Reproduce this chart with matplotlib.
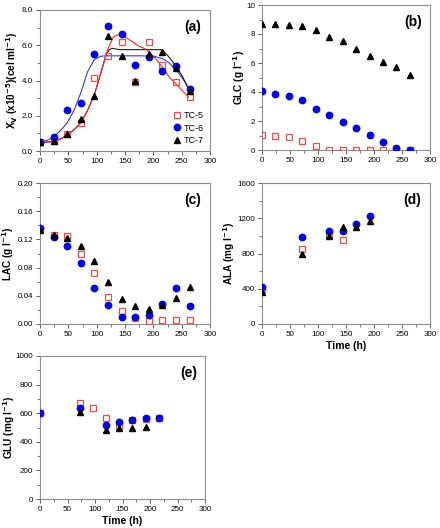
import numpy as np
import matplotlib
matplotlib.use("Agg")
import matplotlib.pyplot as plt
from matplotlib.ticker import MultipleLocator

plt.rcParams['font.family'] = ['Liberation Sans', 'DejaVu Sans']

nan = np.nan
t = [0, 24, 48, 72, 96, 120, 144, 168, 192, 216, 240, 264]

# (a) viable cells
xv_tc5 = [0.5, 0.55, 0.95, 1.6, 4.15, 5.4, 6.2, 3.9, 6.2, 4.9, 3.9, 3.05]
xv_tc6 = [0.5, 0.8, 2.3, 2.75, 5.5, 7.1, 6.65, 4.9, 5.35, 4.55, 4.8, 3.5]
xv_tc7 = [0.5, 0.55, 0.95, 1.8, 3.1, 6.5, 5.4, 4.0, 5.5, 5.6, 4.7, 3.4]

# fitted curves
fit_t5 = [0, 12, 24, 36, 48, 60, 72, 84, 96, 108, 120, 130, 140, 156, 172, 188, 204, 216, 228, 240, 252, 262]
fit_tc5 = [0.5, 0.5, 0.55, 0.68, 0.9, 1.2, 1.6, 2.3, 3.2, 4.5, 5.8, 6.5, 6.6, 6.35, 6.0, 5.75, 5.25, 4.75, 4.2, 3.8, 3.4, 3.05]
fit_t6 = [0, 12, 24, 36, 48, 60, 72, 84, 96, 108, 120, 150, 180, 200, 216, 228, 240, 252, 262]
fit_tc6 = [0.5, 0.6, 0.8, 1.15, 1.6, 2.3, 3.3, 4.5, 5.2, 5.38, 5.4, 5.4, 5.4, 5.38, 5.25, 5.0, 4.6, 4.1, 3.6]
fit_t7 = [0, 12, 24, 36, 48, 60, 72, 84, 96, 108, 116, 122, 128, 140, 170, 200, 214, 226, 240, 252, 262]
fit_tc7 = [0.5, 0.5, 0.55, 0.68, 0.9, 1.2, 1.6, 2.3, 3.2, 4.5, 5.4, 5.75, 5.83, 5.75, 5.75, 5.75, 5.75, 5.4, 4.8, 4.2, 3.5]

# (b) glucose
glc_tc5 = [1.05, 1.0, 0.9, 0.6, 0.28, 0.0, 0.0, 0.0, 0.0, 0.0, 0.0, 0.0]
glc_tc6 = [4.1, 3.85, 3.7, 3.42, 2.85, 2.4, 1.95, 1.5, 1.05, 0.55, 0.12, 0.0]
glc_tc7 = [8.7, 8.7, 8.65, 8.55, 8.25, 7.8, 7.5, 7.0, 6.5, 6.05, 5.7, 5.2]

# (c) lactate
lac_tc5 = [0.135, 0.126, 0.125, 0.099, 0.072, 0.038, 0.018, 0.008, 0.004, 0.006, 0.006, 0.005]
lac_tc6 = [0.136, 0.124, 0.110, 0.086, 0.051, 0.027, 0.010, 0.010, 0.013, 0.029, 0.051, 0.025]
lac_tc7 = [0.134, 0.126, 0.122, 0.110, 0.089, 0.059, 0.035, 0.025, 0.021, 0.027, 0.037, 0.052]

# (d) alanine
t_ala = [0, 72, 120, 144, 168, 192]
ala_tc5 = [400, 850, 1010, 950, nan, nan]
ala_tc6 = [420, 990, 1050, 1060, 1140, 1225]
ala_tc7 = [360, 790, 1000, 1100, 1100, 1170]

# (e) glutamate
t_glu = [0, 72, 96, 120, 144, 168, 192, 216]
glu_tc5 = [600, 670, 635, 565, 510, 555, 560, 565]
glu_tc6 = [600, 635, nan, 520, 535, 555, 565, 565]
glu_tc7 = [nan, 610, nan, 485, 495, 500, 505, nan]

RED = '#d9534f'
BLUE = '#0000e0'
BLACK = '#000000'
MS = 4.2

fig = plt.figure(figsize=(4.4, 5.28), dpi=100)
W, H = 440, 528

def mk_ax(l, t_, r, b):
    ax = fig.add_axes([l / W, 1 - b / H, (r - l) / W, (b - t_) / H])
    ax._px = (l, r)
    return ax

def style(ax, ymax, ymaj, ymin, yfmt, label, panel, label_x, xlabel=False):
    ax.set_xlim(0, 300)
    ax.set_ylim(0, ymax)
    ax.xaxis.set_major_locator(MultipleLocator(50))
    ax.xaxis.set_minor_locator(MultipleLocator(25))
    ax.yaxis.set_major_locator(MultipleLocator(ymaj))
    ax.yaxis.set_minor_locator(MultipleLocator(ymin))
    ax.yaxis.set_major_formatter(matplotlib.ticker.FormatStrFormatter(yfmt))
    for s in ax.spines.values():
        s.set_color('#909090')
        s.set_linewidth(0.8)
    ax.tick_params(which='both', direction='out', labelsize=5.8, color='#606060',
                   top=False, right=False)
    ax.tick_params(which='major', length=3, width=0.7, pad=2)
    ax.tick_params(which='minor', length=2, width=0.6)
    ax.set_ylabel(label, fontsize=7.2, fontweight='bold', va='center')
    l, r = ax._px
    ax.yaxis.set_label_coords((label_x - l) / (r - l), 0.5)
    if xlabel:
        ax.set_xlabel('Time (h)', fontsize=7.5, fontweight='bold', labelpad=2)
    ax.text(0.95, 0.93, panel, transform=ax.transAxes, ha='right', va='top',
            fontsize=10, fontweight='bold')

def pts(ax, x, y5, y6, y7):
    ax.plot(x, y5, 's', ms=MS, mfc='none', mec=RED, mew=0.9, label='TC-5', zorder=3)
    ax.plot(x, y6, 'o', ms=MS + 0.4, mfc=BLUE, mec=BLUE, label='TC-6', zorder=4)
    ax.plot(x, y7, '^', ms=MS, mfc=BLACK, mec=BLACK, label='TC-7', zorder=5)

# (a)
ax = mk_ax(40, 10, 210, 151)
ax.plot(fit_t6, fit_tc6, '-', color='#3a3ad8', lw=0.8, zorder=2)
ax.plot(fit_t7, fit_tc7, '-', color='#202020', lw=0.8, zorder=2)
ax.plot(fit_t5, fit_tc5, '-', color='#e03030', lw=0.8, zorder=2)
pts(ax, t, xv_tc5, xv_tc6, xv_tc7)
style(ax, 8.0, 2.0, 1.0, '%.1f', r'X$_\mathbf{V}$ (x10$^\mathbf{-5}$)(cel ml$^\mathbf{-1}$)', '(a)', 12)
ax.legend(loc='lower right', fontsize=6.5, frameon=False, handletextpad=0.2,
          borderaxespad=0.3, labelspacing=0.35, handlelength=1.0)

# (b)
ax = mk_ax(262, 5, 430, 150)
pts(ax, t, glc_tc5, glc_tc6, glc_tc7)
style(ax, 10, 2, 1, '%d', r'GLC (g l$^\mathbf{-1}$)', '(b)', 239)

# (c)
ax = mk_ax(40, 183, 210, 324)
pts(ax, t, lac_tc5, lac_tc6, lac_tc7)
style(ax, 0.20, 0.04, 0.02, '%.2f', r'LAC (g l$^\mathbf{-1}$)', '(c)', 8)

# (d)
ax = mk_ax(262, 183, 430, 324)
pts(ax, t_ala, ala_tc5, ala_tc6, ala_tc7)
style(ax, 1600, 400, 200, '%d', r'ALA (mg l$^\mathbf{-1}$)', '(d)', 229, xlabel=True)

# (e)
ax = mk_ax(40, 356, 205, 499)
pts(ax, t_glu, glu_tc5, glu_tc6, glu_tc7)
style(ax, 1000, 200, 100, '%d', r'GLU (mg l$^\mathbf{-1}$)', '(e)', 9, xlabel=True)

fig.savefig('out.png', dpi=100)
